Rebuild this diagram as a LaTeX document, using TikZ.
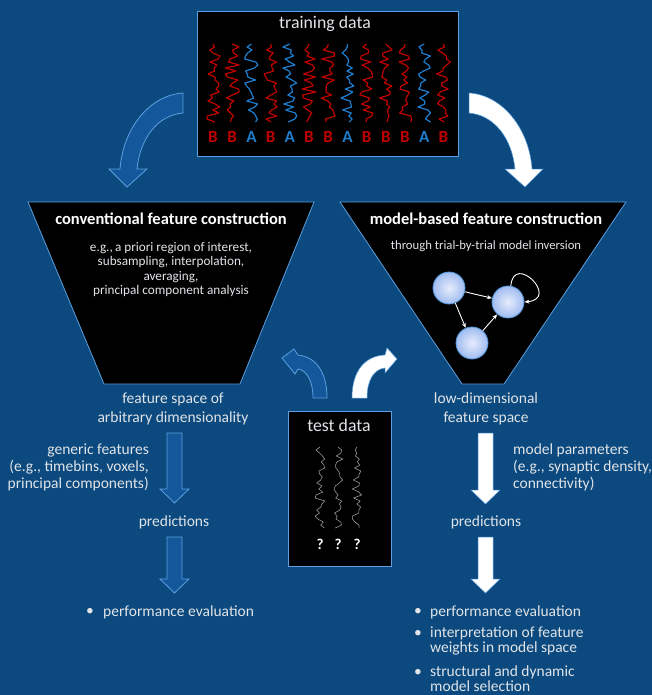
\documentclass[tikz,border=0pt]{standalone}
\usepackage{fontspec}
\setmainfont{Carlito}
\usetikzlibrary{arrows.meta}
\definecolor{bg}{RGB}{11,73,126}
\definecolor{edge}{RGB}{91,160,225}
\definecolor{arrblue}{RGB}{20,88,155}
\definecolor{sigred}{RGB}{192,0,0}
\definecolor{sigblue}{RGB}{30,125,205}
\definecolor{txt}{RGB}{225,228,232}
\definecolor{ballin}{RGB}{230,236,252}
\definecolor{ballout}{RGB}{160,188,240}
\definecolor{ballrim}{RGB}{80,150,220}
\definecolor{testgrey}{RGB}{150,150,150}
\begin{document}
\begin{tikzpicture}[x=1pt,y=-1pt,
  panel/.style={draw=edge, line width=0.8pt, fill=black},
  hdr/.style={text=txt, font=\fontsize{17.8}{20}\selectfont, inner sep=0pt},
  body/.style={text=txt, font=\fontsize{15.5}{19}\selectfont, inner sep=0pt},
  ttl/.style={text=white, font=\fontsize{16.5}{18}\selectfont\bfseries, inner sep=0pt},
  sub/.style={text=txt, font=\fontsize{13.2}{14.3}\selectfont, inner sep=0pt, align=center},
  blockblue/.style={draw=edge, line width=0.8pt, fill=arrblue, line join=miter},
  blockwhite/.style={draw=edge, line width=0.5pt, fill=white, line join=miter},
  lab/.style={font=\fontsize{17}{20}\selectfont\bfseries, inner sep=0pt},
  ball/.style={circle, minimum size=32pt, inner sep=0pt, draw=ballrim, line width=0.8pt, inner color=ballin, outer color=ballout},
  link/.style={draw=white, line width=0.9pt, -{Stealth[length=5pt,width=4pt]}},
]
\fill[bg] (0,0) rectangle (652,695);
\useasboundingbox (0,0) rectangle (652,695);

% training data
\node[panel, minimum width=261pt, minimum height=145pt, anchor=north west, inner sep=0pt] (train) at (197,11) {};
\node[hdr] (traintitle) at (325,24) {training data};
\pgfmathsetseed{7}
\foreach \i/\c/\l in {0/sigred/B,1/sigred/B,2/sigblue/A,3/sigred/B,4/sigblue/A,5/sigred/B,6/sigred/B,7/sigblue/A,8/sigred/B,9/sigred/B,10/sigred/B,11/sigblue/A,12/sigred/B} {
  \pgfmathsetmacro\xc{213+19.2*\i}
  \draw[\c, line width=1.2pt, line join=round] (\xc,44) \foreach \k in {1,...,26} { -- ({\xc+7*rand},{44+3*\k}) };
  \node[lab, text=\c] (l\i) at (\xc,137) {\l};
}

% big curved arrows
\draw[blockblue] (183,93) .. controls (150,95) and (123,128) .. (120,169) -- (109,169) -- (127,187) -- (147,169) -- (137,169) .. controls (140,138) and (158,115) .. (183,113) -- cycle;
\draw[blockwhite] (469,93) .. controls (502,95) and (529,128) .. (532,169) -- (543,169) -- (525,187) -- (505,169) -- (515,169) .. controls (512,138) and (494,115) .. (469,113) -- cycle;

% funnels
\draw[panel] (28,202) -- (314,202) -- (240,384) -- (104,384) -- cycle;
\draw[panel] (340,202) -- (626,202) -- (504,384) -- (462,384) -- cycle;
\node[ttl] (convtitle) at (171,219) {conventional feature construction};
\node[sub] (convsub) at (171,269.5) {e.g.,\,a priori region of interest,\\subsampling, interpolation,\\averaging,\\principal component analysis};
\node[ttl] (modtitle) at (486,219) {model-based feature construction};
\node[sub, font=\fontsize{12.7}{14}\selectfont] (modsub) at (486,246) {through trial-by-trial model inversion};

% model graph
\node[ball] (c1) at (449,288) {};
\node[ball] (c2) at (508,302) {};
\node[ball] (c3) at (472,343) {};
\draw[link] (c1) -- (c2);
\draw[link] (c1) -- (c3);
\draw[link] (c3) -- (c2);
\draw[link] (c2.80) .. controls +(85:34pt) and +(5:36pt) .. (c2.0);

% test data
\draw[blockblue] (327,398) .. controls (327,372) and (316,357) .. (298,355) -- (294,349) -- (282,358) -- (295,374) -- (298,369) .. controls (306,370) and (313,380) .. (313,398) -- cycle;
\draw[blockwhite] (352,398) .. controls (352,372) and (364,356) .. (385,355) -- (387,348) -- (397,359) -- (385,373) -- (385,368) .. controls (374,369) and (367,380) .. (367,398) -- cycle;
\node[panel, minimum width=103pt, minimum height=155pt, anchor=north west, inner sep=0pt] (test) at (288,411) {};
\node[hdr] (testtitle) at (339,425) {test data};
\pgfmathsetseed{21}
\foreach \xc [count=\j] in {320,338,357} {
  \draw[testgrey, line width=0.6pt, line join=round] (\xc,447) \foreach \k in {1,...,27} { -- ({\xc+5*rand},{447+3*\k}) };
  \node[lab, text=white, font=\fontsize{15}{18}\selectfont\bfseries] (q\j) at (\xc,544) {?};
}

% left column
\node[body, align=center] (convspace) at (173,408.5) {feature space of\\arbitrary dimensionality};
\draw[blockblue] (167,433) -- (182,433) -- (182,489) -- (189,489) -- (174.5,503) -- (160,489) -- (167,489) -- cycle;
\node[body, align=right, anchor=east, font=\fontsize{15.5}{17}\selectfont] (generic) at (149,467) {generic features\\(e.g., timebins, voxels,\\principal components)};
\node[body] (predL) at (174,522) {predictions};
\draw[blockblue] (167,537) -- (182,537) -- (182,579) -- (189,579) -- (174.5,593) -- (160,579) -- (167,579) -- cycle;
\node[body] (bulL) at (90,612) {\textbullet};
\node[body, anchor=west] (perfL) at (103,612) {performance evaluation};

% right column
\node[body, align=center] (modspace) at (486,408.5) {low-dimensional\\feature space};
\draw[blockwhite] (478,433) -- (493,433) -- (493,490) -- (500,490) -- (485.5,504) -- (471,490) -- (478,490) -- cycle;
\node[body, align=left, anchor=west, font=\fontsize{15.5}{17}\selectfont] (params) at (513,467) {model parameters\\(e.g., synaptic density,\\connectivity)};
\node[body] (predR) at (486,522) {predictions};
\draw[blockwhite] (478,537) -- (493,537) -- (493,579) -- (500,579) -- (485.5,593) -- (471,579) -- (478,579) -- cycle;
\node[body] (bulR1) at (418,612) {\textbullet};
\node[body, anchor=west] (perfR) at (430,612) {performance evaluation};
\node[body] (bulR2) at (418,634) {\textbullet};
\node[body, anchor=north west, align=left, font=\fontsize{15.5}{15}\selectfont] (interp) at (430,627) {interpretation of feature\\weights in model space};
\node[body] (bulR3) at (418,673) {\textbullet};
\node[body, anchor=north west, align=left, font=\fontsize{15.5}{15}\selectfont] (struct) at (430,666) {structural and dynamic\\model selection};
\end{tikzpicture}
\end{document}
